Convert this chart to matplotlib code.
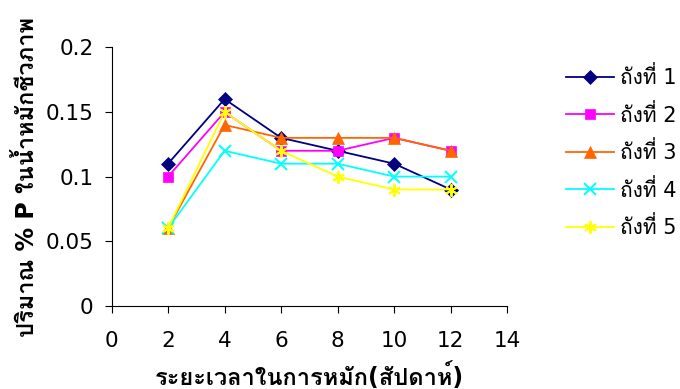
import matplotlib
matplotlib.use("Agg")
import matplotlib.pyplot as plt

weeks = [2, 4, 6, 8, 10, 12]
tank_names = ["ถังที่ 1", "ถังที่ 2", "ถังที่ 3", "ถังที่ 4", "ถังที่ 5"]
tank1 = [0.11, 0.16, 0.13, 0.12, 0.11, 0.09]
tank2 = [0.10, 0.15, 0.12, 0.12, 0.13, 0.12]
tank3 = [0.06, 0.14, 0.13, 0.13, 0.13, 0.12]
tank4 = [0.06, 0.12, 0.11, 0.11, 0.10, 0.10]
tank5 = [0.06, 0.15, 0.12, 0.10, 0.09, 0.09]

colors = ["#000080", "#FF00FF", "#FF6600", "#00FFFF", "#FFFF00"]
markers = ["D", "s", "^", "x", (6, 2, 0)]
sizes = [7, 7.5, 9, 8.5, 9]

plt.rcParams['font.family'] = ['DejaVu Sans', 'Loma']

fig = plt.figure(figsize=(6.8, 3.89), dpi=100)
ax = fig.add_axes([0.164, 0.214, 0.582, 0.664])

for name, ys, c, m, s in zip(tank_names, [tank1, tank2, tank3, tank4, tank5],
                             colors, markers, sizes):
    ax.plot(weeks, ys, color=c, marker=m, markersize=s, linewidth=1.3,
            markeredgewidth=1.4 if m in ("x", (6, 2, 0)) else 0.5, label=name)

ax.set_xlim(0, 14)
ax.set_ylim(0, 0.2)
ax.set_xticks(range(0, 15, 2))
ax.set_yticks([0, 0.05, 0.1, 0.15, 0.2])
ax.set_yticklabels(["0", "0.05", "0.1", "0.15", "0.2"])
ax.spines['top'].set_visible(False)
ax.spines['right'].set_visible(False)
ax.tick_params(direction='out', length=5, labelsize=15.5)
ax.tick_params(axis='x', pad=13)
ax.tick_params(axis='y', pad=8)

ax.set_xlabel("ระยะเวลาในการหมัก(สัปดาห์)", fontsize=17, fontweight='bold', labelpad=8.5)
ax.set_ylabel("ปริมาณ % P ในน้ำหมักชีวภาพ", fontsize=17, fontweight='bold', labelpad=5)

ax.legend(loc='upper left', bbox_to_anchor=(1.1, 1.0), frameon=False,
          fontsize=15, handlelength=2.3, labelspacing=0.75, handletextpad=0.3)

fig.savefig("out.png")
